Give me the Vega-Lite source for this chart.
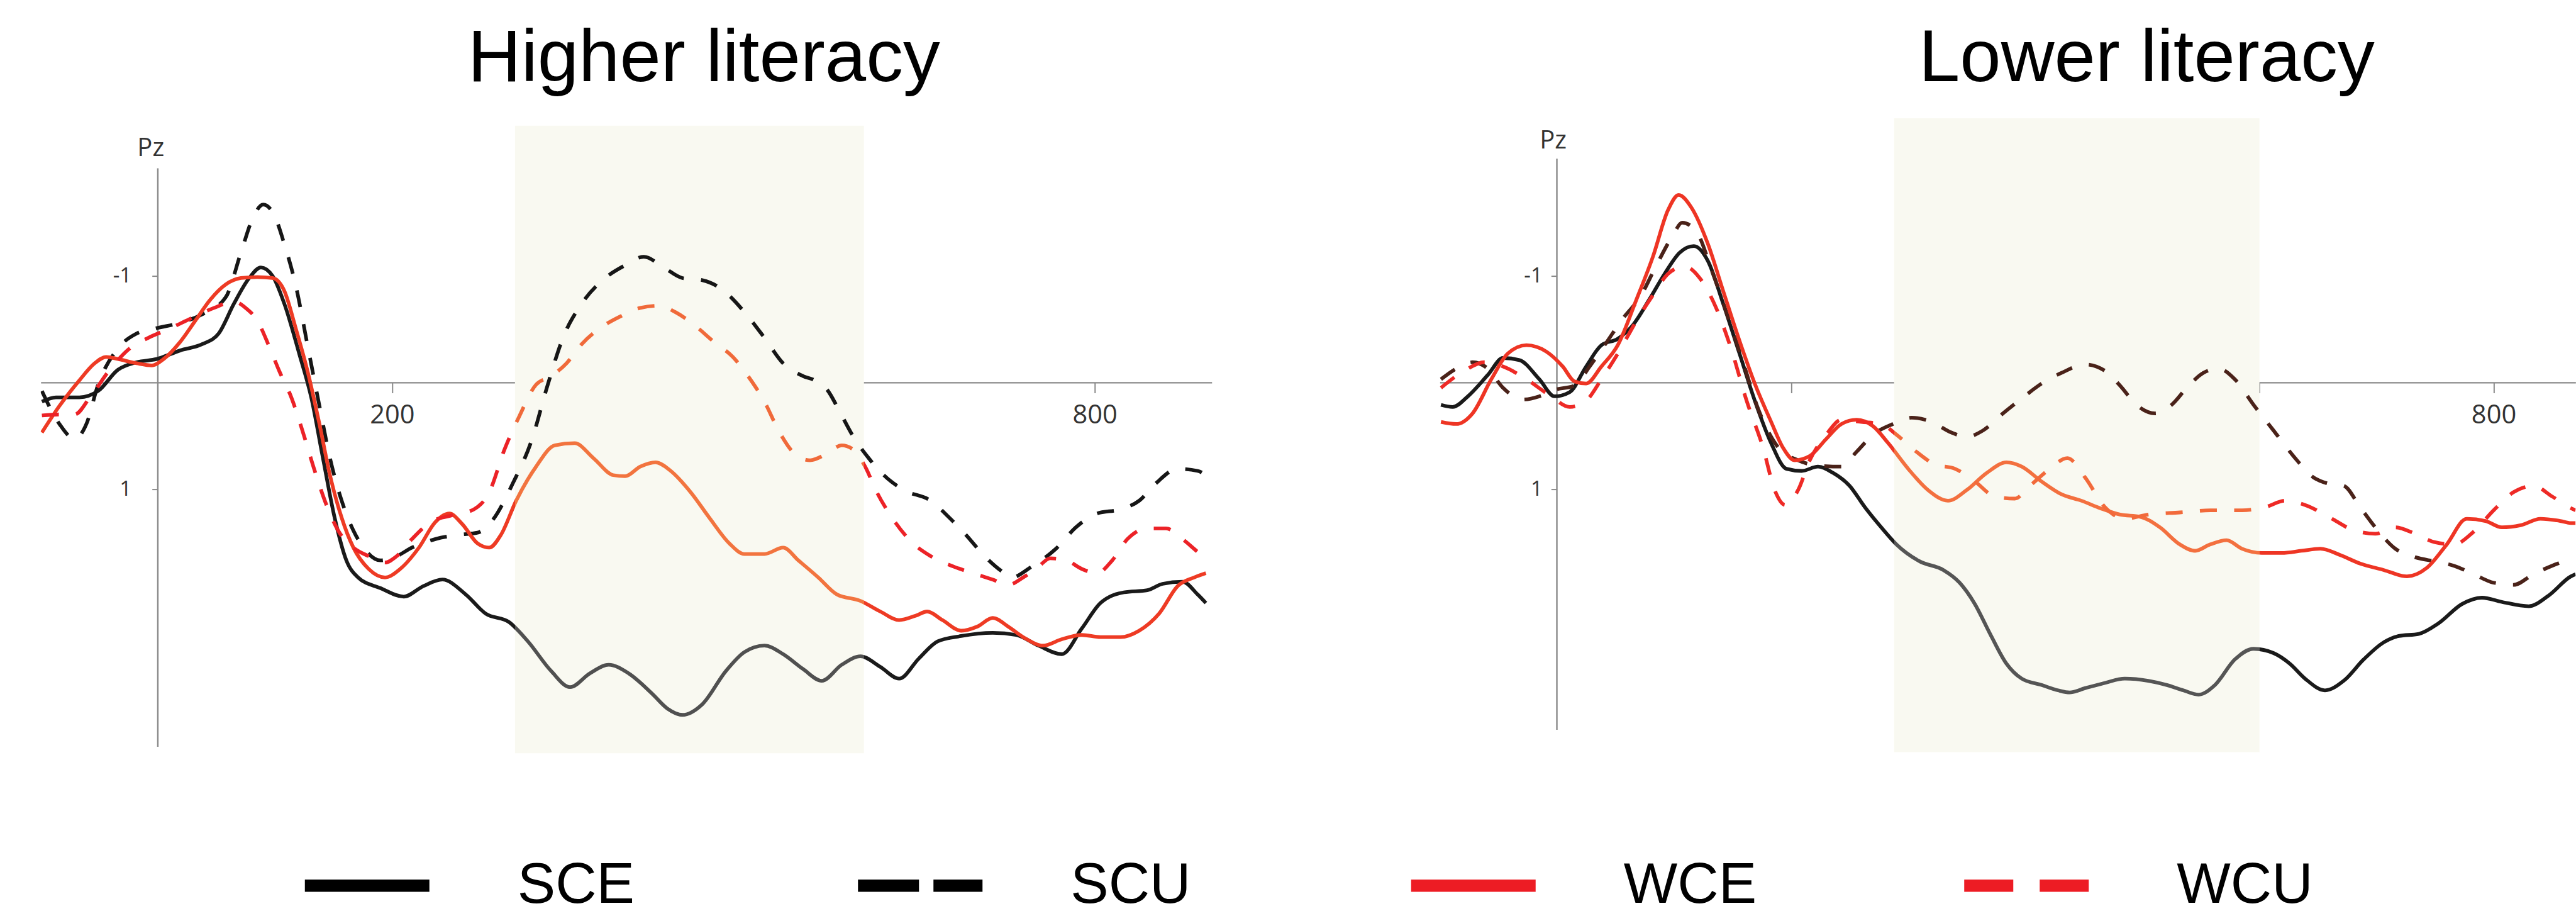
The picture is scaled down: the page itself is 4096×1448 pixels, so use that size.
{
"$schema": "https://vega.github.io/schema/vega-lite/v6.json",
"background": "#ffffff",
"padding": {"top": 34.6, "left": 64.75, "right": 0, "bottom": 0},
"spacing": 362.6,
"config": {"view": {"stroke": null, "fill": "#ffffff"}},
"datasets": {
"hi": [
{"s":"SCE","t":-99,"v":0.18},{"s":"SCE","t":-87,"v":0.14},{"s":"SCE","t":-67,"v":0.14},{"s":"SCE","t":-51,"v":0.08},{"s":"SCE","t":-34,"v":-0.12},{"s":"SCE","t":-18,"v":-0.19},{"s":"SCE","t":-1,"v":-0.22},{"s":"SCE","t":19,"v":-0.30},{"s":"SCE","t":38,"v":-0.36},{"s":"SCE","t":52,"v":-0.46},{"s":"SCE","t":65,"v":-0.74},{"s":"SCE","t":78,"v":-0.98},{"s":"SCE","t":88,"v":-1.08},{"s":"SCE","t":98,"v":-1.0},{"s":"SCE","t":108,"v":-0.74},{"s":"SCE","t":121,"v":-0.26},{"s":"SCE","t":131,"v":0.14},{"s":"SCE","t":141,"v":0.71},{"s":"SCE","t":151,"v":1.27},{"s":"SCE","t":161,"v":1.67},{"s":"SCE","t":171,"v":1.83},{"s":"SCE","t":190,"v":1.93},{"s":"SCE","t":210,"v":2.01},{"s":"SCE","t":227,"v":1.91},{"s":"SCE","t":243,"v":1.85},{"s":"SCE","t":263,"v":1.99},{"s":"SCE","t":280,"v":2.17},{"s":"SCE","t":300,"v":2.25},{"s":"SCE","t":316,"v":2.43},{"s":"SCE","t":336,"v":2.71},{"s":"SCE","t":352,"v":2.86},{"s":"SCE","t":369,"v":2.73},{"s":"SCE","t":385,"v":2.65},{"s":"SCE","t":402,"v":2.73},{"s":"SCE","t":422,"v":2.92},{"s":"SCE","t":435,"v":3.06},{"s":"SCE","t":448,"v":3.12},{"s":"SCE","t":465,"v":3.02},{"s":"SCE","t":485,"v":2.71},{"s":"SCE","t":501,"v":2.53},{"s":"SCE","t":518,"v":2.47},{"s":"SCE","t":534,"v":2.55},{"s":"SCE","t":551,"v":2.69},{"s":"SCE","t":567,"v":2.80},{"s":"SCE","t":584,"v":2.65},{"s":"SCE","t":600,"v":2.57},{"s":"SCE","t":617,"v":2.67},{"s":"SCE","t":633,"v":2.78},{"s":"SCE","t":650,"v":2.59},{"s":"SCE","t":666,"v":2.43},{"s":"SCE","t":686,"v":2.38},{"s":"SCE","t":713,"v":2.35},{"s":"SCE","t":733,"v":2.37},{"s":"SCE","t":752,"v":2.47},{"s":"SCE","t":772,"v":2.55},{"s":"SCE","t":789,"v":2.31},{"s":"SCE","t":805,"v":2.07},{"s":"SCE","t":825,"v":1.97},{"s":"SCE","t":845,"v":1.95},{"s":"SCE","t":858,"v":1.89},{"s":"SCE","t":875,"v":1.87},{"s":"SCE","t":888,"v":1.99},{"s":"SCE","t":895,"v":2.07},
{"s":"SCU","t":-99,"v":0.08},{"s":"SCU","t":-84,"v":0.39},{"s":"SCU","t":-71,"v":0.53},{"s":"SCU","t":-61,"v":0.39},{"s":"SCU","t":-51,"v":0.02},{"s":"SCU","t":-34,"v":-0.32},{"s":"SCU","t":-18,"v":-0.46},{"s":"SCU","t":-1,"v":-0.51},{"s":"SCU","t":19,"v":-0.56},{"s":"SCU","t":38,"v":-0.64},{"s":"SCU","t":58,"v":-0.80},{"s":"SCU","t":71,"v":-1.22},{"s":"SCU","t":81,"v":-1.54},{"s":"SCU","t":90,"v":-1.67},{"s":"SCU","t":99,"v":-1.58},{"s":"SCU","t":108,"v":-1.30},{"s":"SCU","t":118,"v":-0.90},{"s":"SCU","t":128,"v":-0.34},{"s":"SCU","t":138,"v":0.22},{"s":"SCU","t":147,"v":0.71},{"s":"SCU","t":157,"v":1.11},{"s":"SCU","t":167,"v":1.39},{"s":"SCU","t":177,"v":1.57},{"s":"SCU","t":190,"v":1.67},{"s":"SCU","t":204,"v":1.63},{"s":"SCU","t":217,"v":1.55},{"s":"SCU","t":237,"v":1.47},{"s":"SCU","t":257,"v":1.43},{"s":"SCU","t":273,"v":1.41},{"s":"SCU","t":286,"v":1.29},{"s":"SCU","t":303,"v":0.95},{"s":"SCU","t":319,"v":0.55},{"s":"SCU","t":333,"v":0.02},{"s":"SCU","t":346,"v":-0.42},{"s":"SCU","t":362,"v":-0.74},{"s":"SCU","t":382,"v":-0.98},{"s":"SCU","t":399,"v":-1.10},{"s":"SCU","t":415,"v":-1.18},{"s":"SCU","t":432,"v":-1.08},{"s":"SCU","t":448,"v":-0.98},{"s":"SCU","t":465,"v":-0.96},{"s":"SCU","t":481,"v":-0.88},{"s":"SCU","t":501,"v":-0.66},{"s":"SCU","t":518,"v":-0.42},{"s":"SCU","t":534,"v":-0.18},{"s":"SCU","t":551,"v":-0.06},{"s":"SCU","t":561,"v":-0.02},{"s":"SCU","t":571,"v":0.06},{"s":"SCU","t":584,"v":0.31},{"s":"SCU","t":594,"v":0.51},{"s":"SCU","t":607,"v":0.71},{"s":"SCU","t":620,"v":0.87},{"s":"SCU","t":637,"v":1.01},{"s":"SCU","t":660,"v":1.11},{"s":"SCU","t":676,"v":1.27},{"s":"SCU","t":690,"v":1.43},{"s":"SCU","t":706,"v":1.63},{"s":"SCU","t":723,"v":1.79},{"s":"SCU","t":729,"v":1.83},{"s":"SCU","t":746,"v":1.73},{"s":"SCU","t":766,"v":1.57},{"s":"SCU","t":785,"v":1.35},{"s":"SCU","t":802,"v":1.23},{"s":"SCU","t":822,"v":1.19},{"s":"SCU","t":838,"v":1.11},{"s":"SCU","t":852,"v":0.95},{"s":"SCU","t":871,"v":0.81},{"s":"SCU","t":888,"v":0.83},{"s":"SCU","t":895,"v":0.87},
{"s":"WCE","t":-99,"v":0.47},{"s":"WCE","t":-84,"v":0.22},{"s":"WCE","t":-67,"v":-0.02},{"s":"WCE","t":-54,"v":-0.18},{"s":"WCE","t":-44,"v":-0.24},{"s":"WCE","t":-34,"v":-0.22},{"s":"WCE","t":-18,"v":-0.18},{"s":"WCE","t":-5,"v":-0.16},{"s":"WCE","t":5,"v":-0.22},{"s":"WCE","t":19,"v":-0.38},{"s":"WCE","t":32,"v":-0.58},{"s":"WCE","t":45,"v":-0.78},{"s":"WCE","t":58,"v":-0.92},{"s":"WCE","t":71,"v":-0.98},{"s":"WCE","t":85,"v":-0.99},{"s":"WCE","t":98,"v":-0.98},{"s":"WCE","t":108,"v":-0.86},{"s":"WCE","t":118,"v":-0.50},{"s":"WCE","t":128,"v":-0.10},{"s":"WCE","t":138,"v":0.39},{"s":"WCE","t":147,"v":0.87},{"s":"WCE","t":157,"v":1.27},{"s":"WCE","t":167,"v":1.55},{"s":"WCE","t":180,"v":1.75},{"s":"WCE","t":194,"v":1.83},{"s":"WCE","t":207,"v":1.75},{"s":"WCE","t":223,"v":1.55},{"s":"WCE","t":237,"v":1.31},{"s":"WCE","t":249,"v":1.23},{"s":"WCE","t":260,"v":1.33},{"s":"WCE","t":273,"v":1.51},{"s":"WCE","t":283,"v":1.55},{"s":"WCE","t":293,"v":1.43},{"s":"WCE","t":306,"v":1.11},{"s":"WCE","t":323,"v":0.79},{"s":"WCE","t":339,"v":0.59},{"s":"WCE","t":356,"v":0.57},{"s":"WCE","t":372,"v":0.71},{"s":"WCE","t":389,"v":0.87},{"s":"WCE","t":399,"v":0.88},{"s":"WCE","t":412,"v":0.79},{"s":"WCE","t":425,"v":0.75},{"s":"WCE","t":438,"v":0.83},{"s":"WCE","t":455,"v":1.03},{"s":"WCE","t":471,"v":1.27},{"s":"WCE","t":488,"v":1.51},{"s":"WCE","t":501,"v":1.61},{"s":"WCE","t":518,"v":1.61},{"s":"WCE","t":534,"v":1.55},{"s":"WCE","t":547,"v":1.67},{"s":"WCE","t":564,"v":1.83},{"s":"WCE","t":580,"v":1.99},{"s":"WCE","t":600,"v":2.05},{"s":"WCE","t":617,"v":2.15},{"s":"WCE","t":633,"v":2.23},{"s":"WCE","t":647,"v":2.19},{"s":"WCE","t":657,"v":2.15},{"s":"WCE","t":670,"v":2.23},{"s":"WCE","t":686,"v":2.33},{"s":"WCE","t":700,"v":2.29},{"s":"WCE","t":713,"v":2.21},{"s":"WCE","t":726,"v":2.29},{"s":"WCE","t":739,"v":2.39},{"s":"WCE","t":756,"v":2.47},{"s":"WCE","t":772,"v":2.41},{"s":"WCE","t":789,"v":2.37},{"s":"WCE","t":805,"v":2.39},{"s":"WCE","t":822,"v":2.39},{"s":"WCE","t":838,"v":2.33},{"s":"WCE","t":855,"v":2.17},{"s":"WCE","t":871,"v":1.91},{"s":"WCE","t":885,"v":1.83},{"s":"WCE","t":895,"v":1.79},
{"s":"WCU","t":-99,"v":0.31},{"s":"WCU","t":-84,"v":0.30},{"s":"WCU","t":-71,"v":0.30},{"s":"WCU","t":-58,"v":0.14},{"s":"WCU","t":-41,"v":-0.12},{"s":"WCU","t":-24,"v":-0.32},{"s":"WCU","t":-8,"v":-0.42},{"s":"WCU","t":9,"v":-0.50},{"s":"WCU","t":28,"v":-0.60},{"s":"WCU","t":48,"v":-0.70},{"s":"WCU","t":65,"v":-0.76},{"s":"WCU","t":75,"v":-0.70},{"s":"WCU","t":85,"v":-0.58},{"s":"WCU","t":95,"v":-0.34},{"s":"WCU","t":104,"v":-0.10},{"s":"WCU","t":114,"v":0.14},{"s":"WCU","t":124,"v":0.47},{"s":"WCU","t":134,"v":0.83},{"s":"WCU","t":144,"v":1.15},{"s":"WCU","t":154,"v":1.39},{"s":"WCU","t":167,"v":1.55},{"s":"WCU","t":180,"v":1.63},{"s":"WCU","t":194,"v":1.69},{"s":"WCU","t":204,"v":1.63},{"s":"WCU","t":217,"v":1.47},{"s":"WCU","t":233,"v":1.31},{"s":"WCU","t":250,"v":1.25},{"s":"WCU","t":270,"v":1.19},{"s":"WCU","t":283,"v":1.03},{"s":"WCU","t":296,"v":0.63},{"s":"WCU","t":309,"v":0.31},{"s":"WCU","t":323,"v":0.02},{"s":"WCU","t":336,"v":-0.06},{"s":"WCU","t":349,"v":-0.18},{"s":"WCU","t":362,"v":-0.36},{"s":"WCU","t":379,"v":-0.52},{"s":"WCU","t":395,"v":-0.62},{"s":"WCU","t":412,"v":-0.70},{"s":"WCU","t":428,"v":-0.72},{"s":"WCU","t":442,"v":-0.66},{"s":"WCU","t":458,"v":-0.54},{"s":"WCU","t":475,"v":-0.38},{"s":"WCU","t":491,"v":-0.24},{"s":"WCU","t":504,"v":-0.06},{"s":"WCU","t":518,"v":0.18},{"s":"WCU","t":531,"v":0.47},{"s":"WCU","t":544,"v":0.67},{"s":"WCU","t":557,"v":0.73},{"s":"WCU","t":571,"v":0.67},{"s":"WCU","t":584,"v":0.59},{"s":"WCU","t":594,"v":0.63},{"s":"WCU","t":604,"v":0.79},{"s":"WCU","t":614,"v":1.03},{"s":"WCU","t":627,"v":1.27},{"s":"WCU","t":643,"v":1.49},{"s":"WCU","t":660,"v":1.63},{"s":"WCU","t":680,"v":1.73},{"s":"WCU","t":696,"v":1.79},{"s":"WCU","t":713,"v":1.85},{"s":"WCU","t":726,"v":1.90},{"s":"WCU","t":739,"v":1.83},{"s":"WCU","t":752,"v":1.73},{"s":"WCU","t":762,"v":1.65},{"s":"WCU","t":776,"v":1.67},{"s":"WCU","t":789,"v":1.75},{"s":"WCU","t":802,"v":1.79},{"s":"WCU","t":815,"v":1.67},{"s":"WCU","t":828,"v":1.47},{"s":"WCU","t":845,"v":1.37},{"s":"WCU","t":861,"v":1.37},{"s":"WCU","t":875,"v":1.47},{"s":"WCU","t":888,"v":1.59},{"s":"WCU","t":895,"v":1.65}
],
"lo": [
{"s":"SCE","t":-99,"v":0.21},{"s":"SCE","t":-89,"v":0.23},{"s":"SCE","t":-76,"v":0.13},{"s":"SCE","t":-59,"v":-0.07},{"s":"SCE","t":-46,"v":-0.23},{"s":"SCE","t":-32,"v":-0.21},{"s":"SCE","t":-15,"v":-0.03},{"s":"SCE","t":-2,"v":0.13},{"s":"SCE","t":11,"v":0.09},{"s":"SCE","t":25,"v":-0.15},{"s":"SCE","t":38,"v":-0.35},{"s":"SCE","t":52,"v":-0.41},{"s":"SCE","t":65,"v":-0.54},{"s":"SCE","t":79,"v":-0.78},{"s":"SCE","t":92,"v":-1.02},{"s":"SCE","t":105,"v":-1.22},{"s":"SCE","t":117,"v":-1.28},{"s":"SCE","t":129,"v":-1.14},{"s":"SCE","t":142,"v":-0.74},{"s":"SCE","t":156,"v":-0.27},{"s":"SCE","t":169,"v":0.17},{"s":"SCE","t":183,"v":0.57},{"s":"SCE","t":196,"v":0.81},{"s":"SCE","t":209,"v":0.83},{"s":"SCE","t":223,"v":0.79},{"s":"SCE","t":236,"v":0.85},{"s":"SCE","t":250,"v":0.97},{"s":"SCE","t":263,"v":1.17},{"s":"SCE","t":277,"v":1.36},{"s":"SCE","t":290,"v":1.52},{"s":"SCE","t":310,"v":1.68},{"s":"SCE","t":330,"v":1.76},{"s":"SCE","t":344,"v":1.88},{"s":"SCE","t":357,"v":2.08},{"s":"SCE","t":370,"v":2.36},{"s":"SCE","t":384,"v":2.64},{"s":"SCE","t":397,"v":2.78},{"s":"SCE","t":414,"v":2.84},{"s":"SCE","t":428,"v":2.89},{"s":"SCE","t":438,"v":2.91},{"s":"SCE","t":451,"v":2.87},{"s":"SCE","t":468,"v":2.82},{"s":"SCE","t":485,"v":2.78},{"s":"SCE","t":505,"v":2.80},{"s":"SCE","t":521,"v":2.84},{"s":"SCE","t":535,"v":2.89},{"s":"SCE","t":548,"v":2.93},{"s":"SCE","t":562,"v":2.84},{"s":"SCE","t":579,"v":2.60},{"s":"SCE","t":595,"v":2.50},{"s":"SCE","t":612,"v":2.54},{"s":"SCE","t":626,"v":2.64},{"s":"SCE","t":639,"v":2.78},{"s":"SCE","t":656,"v":2.89},{"s":"SCE","t":672,"v":2.80},{"s":"SCE","t":689,"v":2.60},{"s":"SCE","t":706,"v":2.44},{"s":"SCE","t":719,"v":2.38},{"s":"SCE","t":736,"v":2.36},{"s":"SCE","t":753,"v":2.26},{"s":"SCE","t":773,"v":2.08},{"s":"SCE","t":790,"v":2.02},{"s":"SCE","t":807,"v":2.06},{"s":"SCE","t":830,"v":2.10},{"s":"SCE","t":847,"v":2.00},{"s":"SCE","t":866,"v":1.82},{"s":"SCE","t":870,"v":1.80},
{"s":"SCU","t":-99,"v":-0.03},{"s":"SCU","t":-86,"v":-0.13},{"s":"SCU","t":-72,"v":-0.19},{"s":"SCU","t":-59,"v":-0.13},{"s":"SCU","t":-46,"v":0.05},{"s":"SCU","t":-29,"v":0.16},{"s":"SCU","t":-15,"v":0.13},{"s":"SCU","t":-2,"v":0.07},{"s":"SCU","t":15,"v":0.03},{"s":"SCU","t":28,"v":-0.15},{"s":"SCU","t":42,"v":-0.37},{"s":"SCU","t":55,"v":-0.58},{"s":"SCU","t":72,"v":-0.82},{"s":"SCU","t":85,"v":-1.10},{"s":"SCU","t":99,"v":-1.38},{"s":"SCU","t":107,"v":-1.50},{"s":"SCU","t":119,"v":-1.42},{"s":"SCU","t":132,"v":-1.06},{"s":"SCU","t":146,"v":-0.62},{"s":"SCU","t":159,"v":-0.19},{"s":"SCU","t":172,"v":0.25},{"s":"SCU","t":189,"v":0.61},{"s":"SCU","t":206,"v":0.73},{"s":"SCU","t":223,"v":0.78},{"s":"SCU","t":243,"v":0.79},{"s":"SCU","t":256,"v":0.65},{"s":"SCU","t":270,"v":0.49},{"s":"SCU","t":287,"v":0.39},{"s":"SCU","t":303,"v":0.33},{"s":"SCU","t":320,"v":0.37},{"s":"SCU","t":337,"v":0.47},{"s":"SCU","t":350,"v":0.51},{"s":"SCU","t":364,"v":0.45},{"s":"SCU","t":381,"v":0.29},{"s":"SCU","t":397,"v":0.15},{"s":"SCU","t":414,"v":0.01},{"s":"SCU","t":431,"v":-0.09},{"s":"SCU","t":451,"v":-0.17},{"s":"SCU","t":468,"v":-0.11},{"s":"SCU","t":481,"v":0.03},{"s":"SCU","t":495,"v":0.21},{"s":"SCU","t":511,"v":0.29},{"s":"SCU","t":525,"v":0.21},{"s":"SCU","t":538,"v":0.05},{"s":"SCU","t":552,"v":-0.09},{"s":"SCU","t":565,"v":-0.13},{"s":"SCU","t":579,"v":-0.03},{"s":"SCU","t":595,"v":0.21},{"s":"SCU","t":612,"v":0.45},{"s":"SCU","t":629,"v":0.69},{"s":"SCU","t":646,"v":0.89},{"s":"SCU","t":659,"v":0.95},{"s":"SCU","t":672,"v":0.97},{"s":"SCU","t":686,"v":1.17},{"s":"SCU","t":699,"v":1.36},{"s":"SCU","t":716,"v":1.56},{"s":"SCU","t":733,"v":1.64},{"s":"SCU","t":750,"v":1.68},{"s":"SCU","t":766,"v":1.72},{"s":"SCU","t":783,"v":1.80},{"s":"SCU","t":800,"v":1.88},{"s":"SCU","t":817,"v":1.90},{"s":"SCU","t":834,"v":1.80},{"s":"SCU","t":850,"v":1.72},{"s":"SCU","t":866,"v":1.66},{"s":"SCU","t":870,"v":1.65},
{"s":"WCE","t":-99,"v":0.37},{"s":"WCE","t":-86,"v":0.39},{"s":"WCE","t":-72,"v":0.29},{"s":"WCE","t":-56,"v":-0.03},{"s":"WCE","t":-42,"v":-0.27},{"s":"WCE","t":-26,"v":-0.35},{"s":"WCE","t":-9,"v":-0.29},{"s":"WCE","t":5,"v":-0.15},{"s":"WCE","t":15,"v":-0.01},{"s":"WCE","t":25,"v":0.01},{"s":"WCE","t":38,"v":-0.15},{"s":"WCE","t":52,"v":-0.35},{"s":"WCE","t":68,"v":-0.78},{"s":"WCE","t":82,"v":-1.18},{"s":"WCE","t":95,"v":-1.62},{"s":"WCE","t":104,"v":-1.76},{"s":"WCE","t":115,"v":-1.64},{"s":"WCE","t":129,"v":-1.30},{"s":"WCE","t":142,"v":-0.86},{"s":"WCE","t":156,"v":-0.39},{"s":"WCE","t":169,"v":0.01},{"s":"WCE","t":183,"v":0.37},{"s":"WCE","t":193,"v":0.61},{"s":"WCE","t":203,"v":0.73},{"s":"WCE","t":216,"v":0.69},{"s":"WCE","t":230,"v":0.53},{"s":"WCE","t":243,"v":0.39},{"s":"WCE","t":256,"v":0.35},{"s":"WCE","t":270,"v":0.41},{"s":"WCE","t":283,"v":0.57},{"s":"WCE","t":300,"v":0.81},{"s":"WCE","t":317,"v":1.01},{"s":"WCE","t":334,"v":1.11},{"s":"WCE","t":350,"v":1.01},{"s":"WCE","t":367,"v":0.85},{"s":"WCE","t":384,"v":0.75},{"s":"WCE","t":397,"v":0.79},{"s":"WCE","t":414,"v":0.93},{"s":"WCE","t":431,"v":1.05},{"s":"WCE","t":448,"v":1.11},{"s":"WCE","t":464,"v":1.18},{"s":"WCE","t":481,"v":1.24},{"s":"WCE","t":498,"v":1.26},{"s":"WCE","t":515,"v":1.36},{"s":"WCE","t":532,"v":1.52},{"s":"WCE","t":545,"v":1.58},{"s":"WCE","t":558,"v":1.52},{"s":"WCE","t":572,"v":1.48},{"s":"WCE","t":585,"v":1.56},{"s":"WCE","t":602,"v":1.60},{"s":"WCE","t":619,"v":1.60},{"s":"WCE","t":636,"v":1.58},{"s":"WCE","t":652,"v":1.56},{"s":"WCE","t":669,"v":1.62},{"s":"WCE","t":686,"v":1.70},{"s":"WCE","t":706,"v":1.76},{"s":"WCE","t":726,"v":1.82},{"s":"WCE","t":743,"v":1.74},{"s":"WCE","t":760,"v":1.52},{"s":"WCE","t":777,"v":1.28},{"s":"WCE","t":793,"v":1.30},{"s":"WCE","t":807,"v":1.36},{"s":"WCE","t":823,"v":1.34},{"s":"WCE","t":840,"v":1.28},{"s":"WCE","t":857,"v":1.30},{"s":"WCE","t":866,"v":1.32},{"s":"WCE","t":870,"v":1.32},
{"s":"WCU","t":-99,"v":0.05},{"s":"WCU","t":-79,"v":-0.11},{"s":"WCU","t":-62,"v":-0.19},{"s":"WCU","t":-46,"v":-0.15},{"s":"WCU","t":-26,"v":-0.03},{"s":"WCU","t":-5,"v":0.13},{"s":"WCU","t":11,"v":0.23},{"s":"WCU","t":25,"v":0.17},{"s":"WCU","t":38,"v":-0.03},{"s":"WCU","t":52,"v":-0.27},{"s":"WCU","t":68,"v":-0.58},{"s":"WCU","t":82,"v":-0.82},{"s":"WCU","t":95,"v":-1.02},{"s":"WCU","t":109,"v":-1.09},{"s":"WCU","t":122,"v":-0.98},{"s":"WCU","t":136,"v":-0.70},{"s":"WCU","t":149,"v":-0.31},{"s":"WCU","t":162,"v":0.17},{"s":"WCU","t":176,"v":0.61},{"s":"WCU","t":186,"v":1.01},{"s":"WCU","t":195,"v":1.15},{"s":"WCU","t":206,"v":1.01},{"s":"WCU","t":216,"v":0.73},{"s":"WCU","t":230,"v":0.49},{"s":"WCU","t":243,"v":0.35},{"s":"WCU","t":260,"v":0.37},{"s":"WCU","t":277,"v":0.39},{"s":"WCU","t":290,"v":0.49},{"s":"WCU","t":307,"v":0.65},{"s":"WCU","t":323,"v":0.77},{"s":"WCU","t":340,"v":0.81},{"s":"WCU","t":357,"v":0.93},{"s":"WCU","t":374,"v":1.07},{"s":"WCU","t":391,"v":1.09},{"s":"WCU","t":404,"v":0.97},{"s":"WCU","t":421,"v":0.81},{"s":"WCU","t":436,"v":0.71},{"s":"WCU","t":451,"v":0.89},{"s":"WCU","t":468,"v":1.17},{"s":"WCU","t":485,"v":1.28},{"s":"WCU","t":505,"v":1.24},{"s":"WCU","t":532,"v":1.22},{"s":"WCU","t":558,"v":1.20},{"s":"WCU","t":585,"v":1.20},{"s":"WCU","t":605,"v":1.17},{"s":"WCU","t":622,"v":1.11},{"s":"WCU","t":639,"v":1.15},{"s":"WCU","t":659,"v":1.26},{"s":"WCU","t":679,"v":1.38},{"s":"WCU","t":699,"v":1.42},{"s":"WCU","t":716,"v":1.36},{"s":"WCU","t":733,"v":1.42},{"s":"WCU","t":750,"v":1.50},{"s":"WCU","t":766,"v":1.52},{"s":"WCU","t":783,"v":1.40},{"s":"WCU","t":800,"v":1.20},{"s":"WCU","t":817,"v":1.03},{"s":"WCU","t":834,"v":0.97},{"s":"WCU","t":850,"v":1.07},{"s":"WCU","t":866,"v":1.18},{"s":"WCU","t":870,"v":1.20}
],
"key": [{"s":"SCE","t":0,"v":0},{"s":"SCU","t":0,"v":0},{"s":"WCE","t":0,"v":0},{"s":"WCU","t":0,"v":0}]
},
"hconcat": [
{
"width": 1862, "height": 1016,
"title": {"text": "Higher literacy", "font": "Liberation Sans", "fontSize": 117.5, "fontWeight": "normal", "color": "#000000", "anchor": "middle", "frame": "group", "dx": 123.5, "offset": -61.6, "baseline": "alphabetic"},
"layer": [
{"data": {"values": [{"t1": 305, "t2": 603, "v1": -2.41, "v2": 3.48}]},
 "mark": {"type": "rect", "color": "#f9f9f1"},
 "encoding": {"x": {"field": "t1", "type": "quantitative"}, "x2": {"field": "t2"}, "y": {"field": "v1", "type": "quantitative"}, "y2": {"field": "v2"}}},
{"data": {"values": [{"t": 0, "v1": -2.01, "v2": 3.42}]},
 "mark": {"type": "rule", "color": "#8a8a8a", "strokeWidth": 2.4},
 "encoding": {"x": {"field": "t", "type": "quantitative"}, "y": {"field": "v1", "type": "quantitative"}, "y2": {"field": "v2"}}},
{"data": {"name": "hi"},
 "transform": [{"filter": "datum.s == 'SCE'"}],
 "mark": {"type": "line", "strokeWidth": 5.8, "interpolate": "monotone", "strokeCap": "butt", "clip": true,
  "color": {"gradient": "linear", "x1": 0, "y1": 0, "x2": 1, "y2": 0, "stops": [{"offset": 0, "color": "#1a1a1a"}, {"offset": 0.4064, "color": "#1a1a1a"}, {"offset": 0.4064, "color": "#505050"}, {"offset": 0.7062, "color": "#505050"}, {"offset": 0.7062, "color": "#1a1a1a"}, {"offset": 1, "color": "#1a1a1a"}]}},
 "encoding": {
  "x": {"field": "t", "type": "quantitative", "scale": {"domain": [-100, 900], "nice": false, "zero": false},
   "axis": {"values": [200, 400, 600, 800], "labelExpr": "datum.value == 200 || datum.value == 800 ? datum.label : ''", "offset": -592.7, "grid": false, "title": null, "domainColor": "#8a8a8a", "domainWidth": 2.4, "tickColor": "#8a8a8a", "tickWidth": 2, "tickSize": 16.6, "labelFont": "Open Sans", "labelFontSize": 41.6, "labelColor": "#333333", "labelPadding": 15, "labelFlush": false, "labelOverlap": false}},
  "y": {"field": "v", "type": "quantitative", "scale": {"domain": [-2.5, 3.5], "reverse": true, "nice": false, "zero": false},
   "axis": {"values": [-1, 1], "labelExpr": "datum.value < 0 ? '-1' : '1'", "offset": -186.2, "domain": false, "grid": false, "tickColor": "#8a8a8a", "tickWidth": 2, "tickSize": 9.25, "labelFont": "Open Sans", "labelFontSize": 33, "labelColor": "#333333", "labelPadding": 33, "title": "Pz", "titleAngle": 0, "titleX": -11.7, "titleY": 63.4, "titleAlign": "center", "titleBaseline": "alphabetic", "titleFont": "Open Sans", "titleFontSize": 40, "titleFontWeight": "normal", "titleColor": "#333333"}}
 }},
{"data": {"name": "hi"},
 "transform": [{"filter": "datum.s == 'SCU'"}],
 "mark": {"type": "line", "strokeWidth": 5.8, "interpolate": "monotone", "strokeCap": "butt", "clip": true, "color": "#161616", "strokeDash": [27, 27.5]},
 "encoding": {"x": {"field": "t", "type": "quantitative"}, "y": {"field": "v", "type": "quantitative"}}},
{"data": {"name": "hi"},
 "transform": [{"filter": "datum.s == 'WCE'"}],
 "mark": {"type": "line", "strokeWidth": 5.8, "interpolate": "monotone", "strokeCap": "butt", "clip": true,
  "color": {"gradient": "linear", "x1": 0, "y1": 0, "x2": 1, "y2": 0, "stops": [{"offset": 0, "color": "#ee3b24"}, {"offset": 0.4064, "color": "#ee3b24"}, {"offset": 0.4064, "color": "#f2743f"}, {"offset": 0.7062, "color": "#f2743f"}, {"offset": 0.7062, "color": "#ee3b24"}, {"offset": 1, "color": "#ee3b24"}]}},
 "encoding": {"x": {"field": "t", "type": "quantitative"}, "y": {"field": "v", "type": "quantitative"}}},
{"data": {"name": "hi"},
 "transform": [{"filter": "datum.s == 'WCU'"}],
 "mark": {"type": "line", "strokeWidth": 5.8, "interpolate": "monotone", "strokeCap": "butt", "clip": true, "strokeDash": [27, 27.5],
  "color": {"gradient": "linear", "x1": 0, "y1": 0, "x2": 1, "y2": 0, "stops": [{"offset": 0, "color": "#ec2227"}, {"offset": 0.4064, "color": "#ec2227"}, {"offset": 0.4064, "color": "#f06a3a"}, {"offset": 0.7062, "color": "#f06a3a"}, {"offset": 0.7062, "color": "#ec2227"}, {"offset": 1, "color": "#ec2227"}]}},
 "encoding": {"x": {"field": "t", "type": "quantitative"}, "y": {"field": "v", "type": "quantitative"}}},
{"data": {"name": "key"},
 "mark": {"type": "line", "strokeCap": "butt", "interpolate": "linear"},
 "encoding": {"x": {"field": "t", "type": "quantitative"}, "y": {"field": "v", "type": "quantitative"},
  "color": {"field": "s", "type": "nominal", "scale": {"domain": ["SCE", "SCU", "WCE", "WCU"], "range": ["#000000", "#000000", "#ed1c24", "#ed1c24"]},
   "legend": {"orient": "none", "legendX": 410, "legendY": 1114, "direction": "horizontal", "columns": 4, "gridAlign": "all", "columnPadding": 285.5, "rowPadding": 0, "padding": 0, "title": null, "symbolType": "stroke", "symbolSize": 39204, "symbolStrokeWidth": 19.4, "symbolOffset": 0, "labelFont": "Liberation Sans", "labelFontSize": 90.6, "labelColor": "#000000", "labelOffset": 130, "labelLimit": 600}},
  "strokeDash": {"field": "s", "type": "nominal", "scale": {"domain": ["SCE", "SCU", "WCE", "WCU"], "range": [[1, 0], [97, 23], [1, 0], [78, 42]]}}
 }}
]
},
{
"width": 1806, "height": 1016,
"title": {"text": "Lower literacy", "font": "Liberation Sans", "fontSize": 117.5, "fontWeight": "normal", "color": "#000000", "anchor": "middle", "frame": "group", "dx": 221, "offset": -61.6, "baseline": "alphabetic"},
"layer": [
{"data": {"values": [{"t1": 288, "t2": 600, "v1": -2.48, "v2": 3.47}]},
 "mark": {"type": "rect", "color": "#f9f9f1"},
 "encoding": {"x": {"field": "t1", "type": "quantitative"}, "x2": {"field": "t2"}, "y": {"field": "v1", "type": "quantitative"}, "y2": {"field": "v2"}}},
{"data": {"values": [{"t": 0, "v1": -2.1, "v2": 3.26}]},
 "mark": {"type": "rule", "color": "#8a8a8a", "strokeWidth": 2.4},
 "encoding": {"x": {"field": "t", "type": "quantitative"}, "y": {"field": "v1", "type": "quantitative"}, "y2": {"field": "v2"}}},
{"data": {"name": "lo"},
 "transform": [{"filter": "datum.s == 'SCE'"}],
 "mark": {"type": "line", "strokeWidth": 5.8, "interpolate": "monotone", "strokeCap": "butt", "clip": true,
  "color": {"gradient": "linear", "x1": 0, "y1": 0, "x2": 1, "y2": 0, "stops": [{"offset": 0, "color": "#1a1a1a"}, {"offset": 0.3994, "color": "#1a1a1a"}, {"offset": 0.3994, "color": "#555555"}, {"offset": 0.7214, "color": "#555555"}, {"offset": 0.7214, "color": "#1a1a1a"}, {"offset": 1, "color": "#1a1a1a"}]}},
 "encoding": {
  "x": {"field": "t", "type": "quantitative", "scale": {"domain": [-100, 870], "nice": false, "zero": false},
   "axis": {"values": [200, 400, 600, 800], "labelExpr": "datum.value == 800 ? datum.label : ''", "offset": -592.7, "grid": false, "title": null, "domainColor": "#8a8a8a", "domainWidth": 2.4, "tickColor": "#8a8a8a", "tickWidth": 2, "tickSize": 16.6, "labelFont": "Open Sans", "labelFontSize": 41.6, "labelColor": "#333333", "labelPadding": 15, "labelFlush": false, "labelOverlap": false}},
  "y": {"field": "v", "type": "quantitative", "scale": {"domain": [-2.5, 3.5], "reverse": true, "nice": false, "zero": false},
   "axis": {"values": [-1, 1], "labelExpr": "datum.value < 0 ? '-1' : '1'", "offset": -186.2, "domain": false, "grid": false, "tickColor": "#8a8a8a", "tickWidth": 2, "tickSize": 9.25, "labelFont": "Open Sans", "labelFontSize": 33, "labelColor": "#333333", "labelPadding": 14, "title": "Pz", "titleAngle": 0, "titleX": -6.5, "titleY": 51.3, "titleAlign": "center", "titleBaseline": "alphabetic", "titleFont": "Open Sans", "titleFontSize": 40, "titleFontWeight": "normal", "titleColor": "#333333"}}
 }},
{"data": {"name": "lo"},
 "transform": [{"filter": "datum.s == 'SCU'"}],
 "mark": {"type": "line", "strokeWidth": 5.8, "interpolate": "monotone", "strokeCap": "butt", "clip": true, "color": "#4a2219", "strokeDash": [27, 27.5]},
 "encoding": {"x": {"field": "t", "type": "quantitative"}, "y": {"field": "v", "type": "quantitative"}}},
{"data": {"name": "lo"},
 "transform": [{"filter": "datum.s == 'WCE'"}],
 "mark": {"type": "line", "strokeWidth": 5.8, "interpolate": "monotone", "strokeCap": "butt", "clip": true,
  "color": {"gradient": "linear", "x1": 0, "y1": 0, "x2": 1, "y2": 0, "stops": [{"offset": 0, "color": "#ee3524"}, {"offset": 0.3994, "color": "#ee3524"}, {"offset": 0.3994, "color": "#f3703f"}, {"offset": 0.7214, "color": "#f3703f"}, {"offset": 0.7214, "color": "#ee3524"}, {"offset": 1, "color": "#ee3524"}]}},
 "encoding": {"x": {"field": "t", "type": "quantitative"}, "y": {"field": "v", "type": "quantitative"}}},
{"data": {"name": "lo"},
 "transform": [{"filter": "datum.s == 'WCU'"}],
 "mark": {"type": "line", "strokeWidth": 5.8, "interpolate": "monotone", "strokeCap": "butt", "clip": true, "strokeDash": [27, 27.5],
  "color": {"gradient": "linear", "x1": 0, "y1": 0, "x2": 1, "y2": 0, "stops": [{"offset": 0, "color": "#ee2a26"}, {"offset": 0.3994, "color": "#ee2a26"}, {"offset": 0.3994, "color": "#f26a3b"}, {"offset": 0.7214, "color": "#f26a3b"}, {"offset": 0.7214, "color": "#ee2a26"}, {"offset": 1, "color": "#ee2a26"}]}},
 "encoding": {"x": {"field": "t", "type": "quantitative"}, "y": {"field": "v", "type": "quantitative"}}}
]
}
]
}
